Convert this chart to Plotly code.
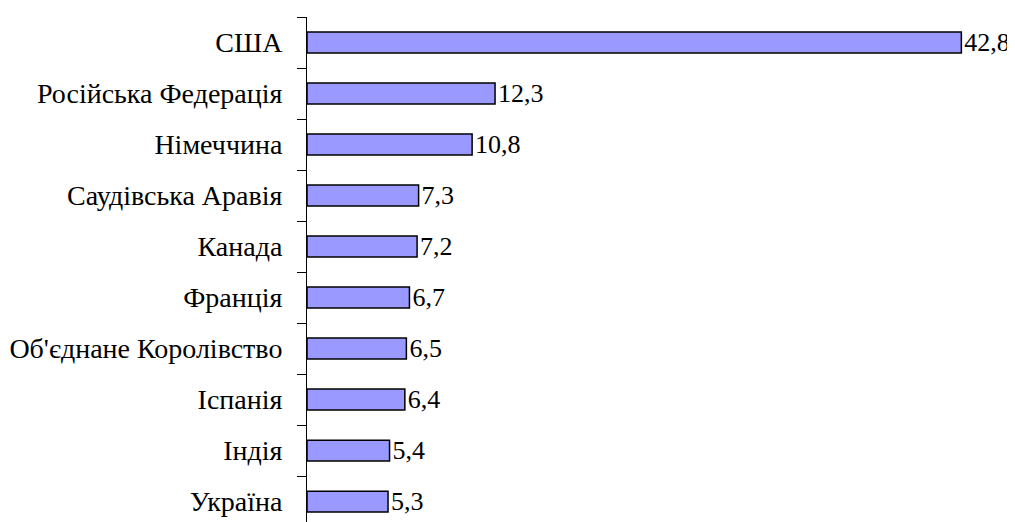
import plotly.graph_objects as go

countries = ["США", "Російська Федерація", "Німеччина", "Саудівська Аравія", "Канада",
             "Франція", "Об'єднане Королівство", "Іспанія", "Індія", "Україна"]
values = [42.8, 12.3, 10.8, 7.3, 7.2, 6.7, 6.5, 6.4, 5.4, 5.3]
labels = [f"{v:.1f}".replace(".", ",") for v in values]

font = "Liberation Serif"

fig = go.Figure(go.Bar(
    x=values, y=countries, orientation="h",
    marker=dict(color="#9999FF", line=dict(color="black", width=1.5)),
    text=labels, textposition="outside", cliponaxis=False,
    constraintext="none",
    textfont=dict(family=font, size=26, color="black"),
))

fig.update_layout(
    width=1007, height=514,
    margin=dict(l=299, r=20, t=9, b=0),
    plot_bgcolor="white", paper_bgcolor="white",
    bargap=0.59, showlegend=False,
    font=dict(family=font, size=26, color="black"),
)
fig.update_xaxes(range=[0, 45], visible=False)
fig.update_yaxes(
    categoryorder="array", categoryarray=countries,
    range=[9.4, -0.5], automargin=False,
    showline=True, linecolor="black", linewidth=1,
    ticks="outside", ticklen=9, tickcolor="black", tickwidth=1,
    tickson="boundaries", showgrid=False,
    ticklabelstandoff=18,
    tickfont=dict(family=font, size=28, color="black"),
)

fig.write_html("out.html")
